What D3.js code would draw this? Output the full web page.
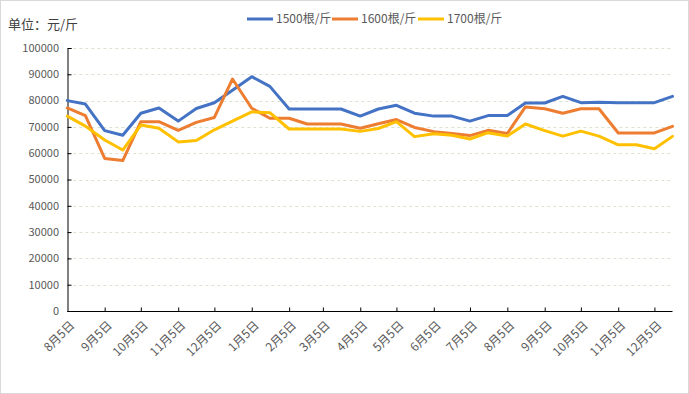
<!DOCTYPE html>
<html><head><meta charset="utf-8">
<script src="https://cdn.jsdelivr.net/npm/d3@7"></script>
<style>body{margin:0;background:#fff} svg{display:block}</style>
</head><body>
<svg id="c" width="689" height="394"></svg>
<script>
const dates = ["2021-08-05","2021-08-20","2021-09-05","2021-09-20","2021-10-05","2021-10-20","2021-11-05","2021-11-20","2021-12-05","2021-12-20",
"2022-01-05","2022-01-20","2022-02-05","2022-02-20","2022-03-05","2022-03-20","2022-04-05","2022-04-20","2022-05-05","2022-05-20",
"2022-06-05","2022-06-20","2022-07-05","2022-07-20","2022-08-05","2022-08-20","2022-09-05","2022-09-20","2022-10-05","2022-10-20",
"2022-11-05","2022-11-20","2022-12-05","2022-12-20"];
const s1500 = [80000,78700,68600,66800,75200,77200,72200,77000,79200,83900,89100,85400,76800,76800,76800,76800,74100,76800,78200,75200,74100,74100,72200,74300,74300,79100,79100,81600,79200,79400,79200,79200,79200,81600];
const s1600 = [77200,74300,58000,57200,72000,72000,68700,71700,73600,88200,77100,73300,73300,71100,71100,71100,69500,71200,72800,69800,68200,67500,66700,68700,67500,77600,76900,75200,76900,76900,67700,67700,67700,70200];
const s1700 = [74100,70300,65000,61200,70700,69500,64300,64800,68900,72200,75700,75400,69200,69200,69200,69200,68300,69400,72000,66300,67400,66800,65400,67800,66500,71100,68600,66500,68400,66500,63200,63200,61700,66400];
const seriesNames = ["1500根/斤","1600根/斤","1700根/斤"];
const colors = ["#4472C4","#ED7D31","#FFC000"];
const yTicks = [0,10000,20000,30000,40000,50000,60000,70000,80000,90000,100000];
const xTickDates = ["2021-08-05","2021-09-05","2021-10-05","2021-11-05","2021-12-05","2022-01-05","2022-02-05","2022-03-05","2022-04-05","2022-05-05","2022-06-05","2022-07-05","2022-08-05","2022-09-05","2022-10-05","2022-11-05","2022-12-05"];
const unitLabel = "单位：元/斤";

const parse = d3.timeParse("%Y-%m-%d");
const X = dates.map(parse);
const svg = d3.select("#c");
const font = "'Noto Sans CJK SC','Noto Sans',sans-serif";

svg.append("rect").attr("x",0.5).attr("y",0.5).attr("width",688).attr("height",393)
  .attr("fill","#fff").attr("stroke","#d9d9d9");

const m = {l:67.3, r:672.5, t:48, b:311};
const x = d3.scaleTime().domain(d3.extent(X)).range([m.l, m.r]);
const y = d3.scaleLinear().domain([0,100000]).range([m.b, m.t]);

// gridlines
svg.append("g").selectAll("line").data(yTicks.filter(v=>v>0)).join("line")
  .attr("x1",m.l).attr("x2",m.r).attr("y1",d=>Math.round(y(d))+0.5).attr("y2",d=>Math.round(y(d))+0.5)
  .attr("stroke","#d9e3d0").attr("stroke-width",1).attr("stroke-dasharray","3,3");

// y axis
const ya = svg.append("g").attr("transform",`translate(${Math.round(m.l)+0.5},0)`)
  .call(d3.axisRight(y).tickValues(yTicks).tickSize(4).tickFormat(""));
ya.select(".domain").attr("stroke","#000");
ya.selectAll(".tick line").attr("stroke","#000");
svg.append("g").selectAll("text").data(yTicks).join("text")
  .attr("x",59).attr("y",d=>y(d)).attr("dy","0.35em").attr("text-anchor","end")
  .attr("font-family",font).attr("font-size",11).attr("fill","#595959").text(d=>d);

// x axis
const xa = svg.append("g").attr("transform",`translate(0,${Math.round(m.b)+0.5})`)
  .call(d3.axisTop(x).tickValues(xTickDates.map(parse)).tickSize(4).tickFormat(""));
xa.select(".domain").attr("stroke","#000").attr("d",`M${m.l},0H${m.r}`);
xa.selectAll(".tick line").attr("stroke","#000");
xa.selectAll(".tick").filter((d,i)=>i===0).select("line").remove();
svg.append("g").selectAll("text").data(xTickDates.map(parse)).join("text")
  .attr("transform",d=>`translate(${x(d)+5},${m.b+12}) rotate(-45)`)
  .attr("text-anchor","end").attr("dy","0.35em")
  .attr("font-family",font).attr("font-size",12).attr("fill","#595959")
  .text(d=>`${d.getMonth()+1}月5日`);

// lines
const allSeries = [s1500, s1600, s1700];
const line = d3.line().x((d,i)=>x(X[i])).y(d=>y(d));
allSeries.forEach((s,k)=>{
  svg.append("path").datum(s).attr("d",line).attr("fill","none")
    .attr("stroke",colors[k]).attr("stroke-width",3).attr("stroke-linejoin","round").attr("stroke-linecap","round");
});

// unit label
svg.append("text").attr("x",8).attr("y",29).attr("font-family",font).attr("font-size",13)
  .attr("fill","#404040").text(unitLabel);

// legend
const lg = svg.append("g");
const lx = [247, 332, 418];
seriesNames.forEach((n,k)=>{
  lg.append("line").attr("x1",lx[k]).attr("x2",lx[k]+26).attr("y1",19).attr("y2",19)
    .attr("stroke",colors[k]).attr("stroke-width",3);
  lg.append("text").attr("x",lx[k]+29).attr("y",19).attr("dy","0.35em")
    .attr("font-family",font).attr("font-size",12).attr("fill","#595959").text(n);
});
</script>
</body></html>
